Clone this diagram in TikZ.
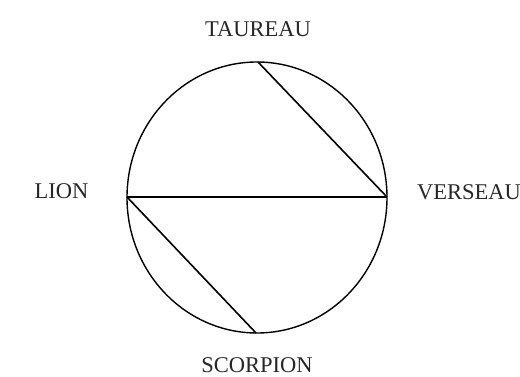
\documentclass[tikz,border=0pt]{standalone}
\usepackage{fontspec}
\setmainfont{Liberation Serif}
\usetikzlibrary{positioning}
\tikzset{
	sign/.style={font=\fontsize{22.5}{26}\selectfont, text=black!85, inner sep=0pt},
	chord/.style={line width=1.6pt},
}

\begin{document}
\begin{tikzpicture}[x=1pt, y=-1pt]
	\useasboundingbox (0,0) rectangle (520,377);
	% zodiac circle
	\draw[line width=1.4pt] (257,197.5) ellipse [x radius=130, y radius=135.5];
	\coordinate (t) at (258,62);
	\coordinate (r) at (387,197);
	\coordinate (l) at (127,197);
	\coordinate (b) at (256,333);
	\node[sign] (taureau) at (258,29) {TAUREAU};
	\node[sign] (lion) at (61.5,191) {LION};
	\node[sign] (verseau) at (469,192) {VERSEAU};
	\node[sign] (scorpion) at (257,365.5) {SCORPION};
	\draw[chord] (t) -- (r);
	\draw[chord, line width=2pt] (l) -- (r);
	\draw[chord] (l) -- (b);
\end{tikzpicture}
\end{document}
